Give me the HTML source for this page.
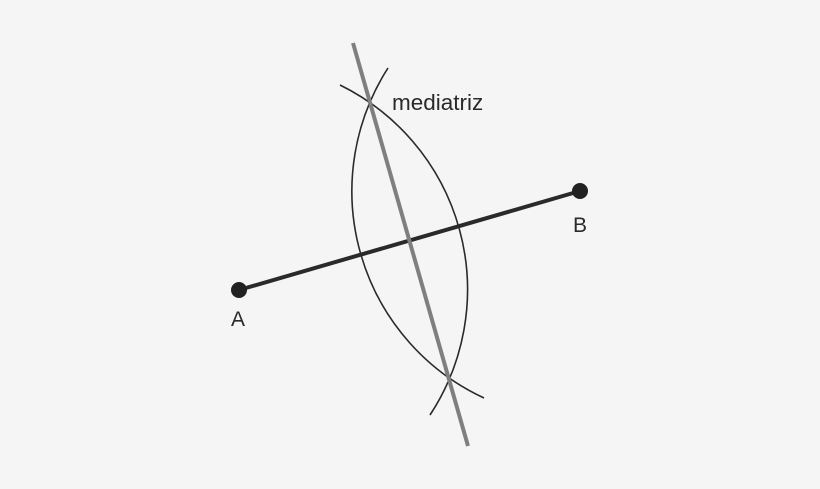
<!DOCTYPE html>
<html><head><style>html,body{margin:0;padding:0;background:#f5f5f5;}</style></head>
<body>
<svg width="820" height="489" xmlns="http://www.w3.org/2000/svg" style="display:block">
<rect width="820" height="489" fill="#f5f5f5"/>
<path d="M388,68 A228,228 0 0 0 484,398" fill="none" stroke="#2a2a2a" stroke-width="1.6"/>
<path d="M340,85 A228,228 0 0 1 430,415" fill="none" stroke="#2a2a2a" stroke-width="1.6"/>
<line x1="239" y1="290" x2="580" y2="191" stroke="#2a2a2a" stroke-width="4"/>
<line x1="353" y1="43" x2="468" y2="446" stroke="#7f7f7f" stroke-width="4"/>
<circle cx="239" cy="290" r="8" fill="#222"/>
<circle cx="580" cy="191" r="8" fill="#222"/>
<text x="392" y="110" font-family="Liberation Sans, sans-serif" font-size="22.5" fill="#2a2a2a">mediatriz</text>
<text x="573" y="232" font-family="Liberation Sans, sans-serif" font-size="21" fill="#2a2a2a">B</text>
<text x="231" y="326" font-family="Liberation Sans, sans-serif" font-size="21" fill="#2a2a2a">A</text>
</svg>
</body></html>
